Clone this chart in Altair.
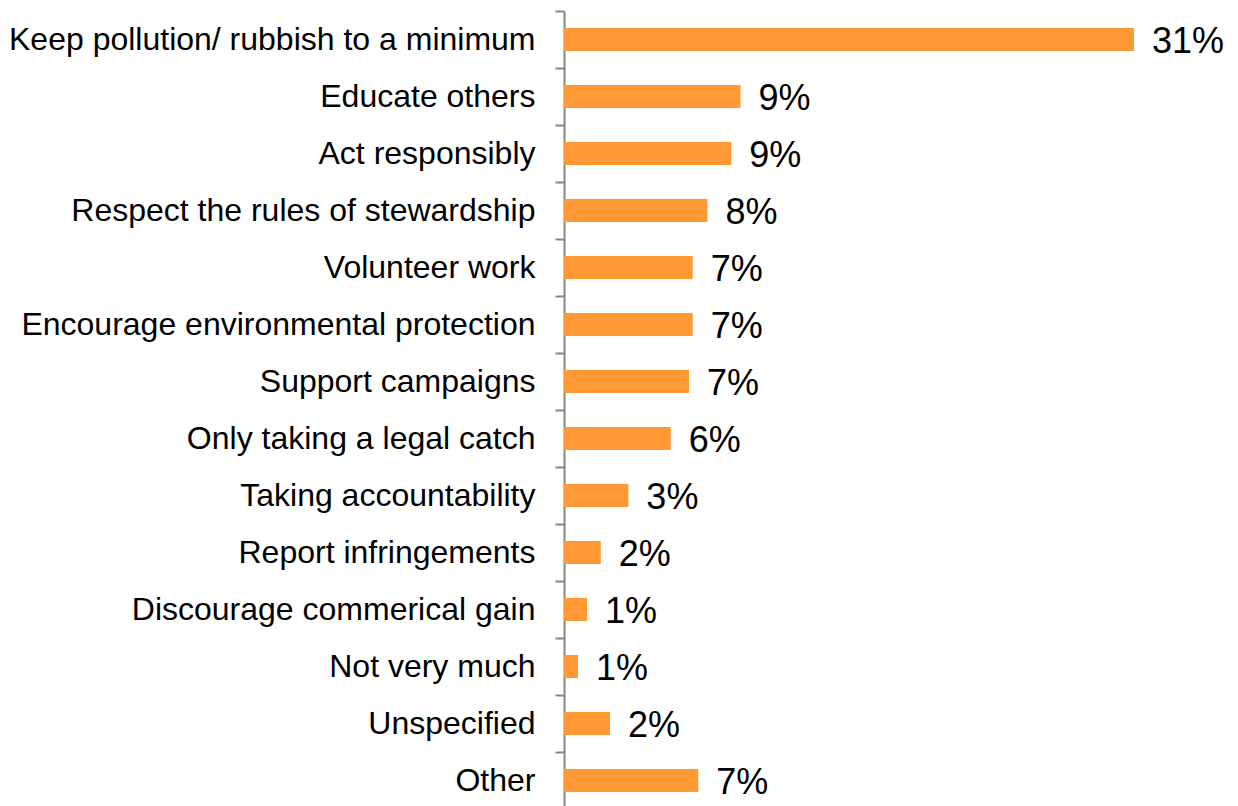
import altair as alt
import pandas as pd

categories = [
    "Keep pollution/ rubbish to a minimum",
    "Educate others",
    "Act responsibly",
    "Respect the rules of stewardship",
    "Volunteer work",
    "Encourage environmental protection",
    "Support campaigns",
    "Only taking a legal catch",
    "Taking accountability",
    "Report infringements",
    "Discourage commerical gain",
    "Not very much",
    "Unspecified",
    "Other",
]
values = [31.0, 9.6, 9.1, 7.8, 7.0, 7.0, 6.8, 5.8, 3.5, 2.0, 1.25, 0.76, 2.5, 7.3]
labels = ["31%", "9%", "9%", "8%", "7%", "7%", "7%", "6%", "3%", "2%", "1%", "1%", "2%", "7%"]

df = pd.DataFrame({"cat": categories, "val": values, "lab": labels})

FONT = "Liberation Sans"

y = alt.Y("cat:N", sort=categories, title=None,
          scale=alt.Scale(paddingInner=0, paddingOuter=0),
          axis=alt.Axis(labelFontSize=32, labelFont=FONT, labelColor="#000000",
                        labelPadding=20, tickSize=9, tickColor="#868686",
                        domainColor="#868686", domainWidth=2, tickWidth=2,
                        tickBand="extent", labelLimit=1000))
x = alt.X("val:Q", title=None, scale=alt.Scale(domain=[0, 36], nice=False),
          axis=None)

bars = alt.Chart(df).mark_bar(color="#FF9933", size=23).encode(x=x, y=y)
text = alt.Chart(df).mark_text(align="left", baseline="middle", dx=18, dy=2,
                               fontSize=36, font=FONT, color="#000000").encode(
    x=x, y=y, text="lab:N")

chart = (bars + text).properties(
    width=662, height=798,
    padding={"left": 0, "top": -13, "right": 0, "bottom": 0},
).configure_view(stroke=None)

chart.save("out.html", embed_options={"renderer": "svg", "actions": False})
